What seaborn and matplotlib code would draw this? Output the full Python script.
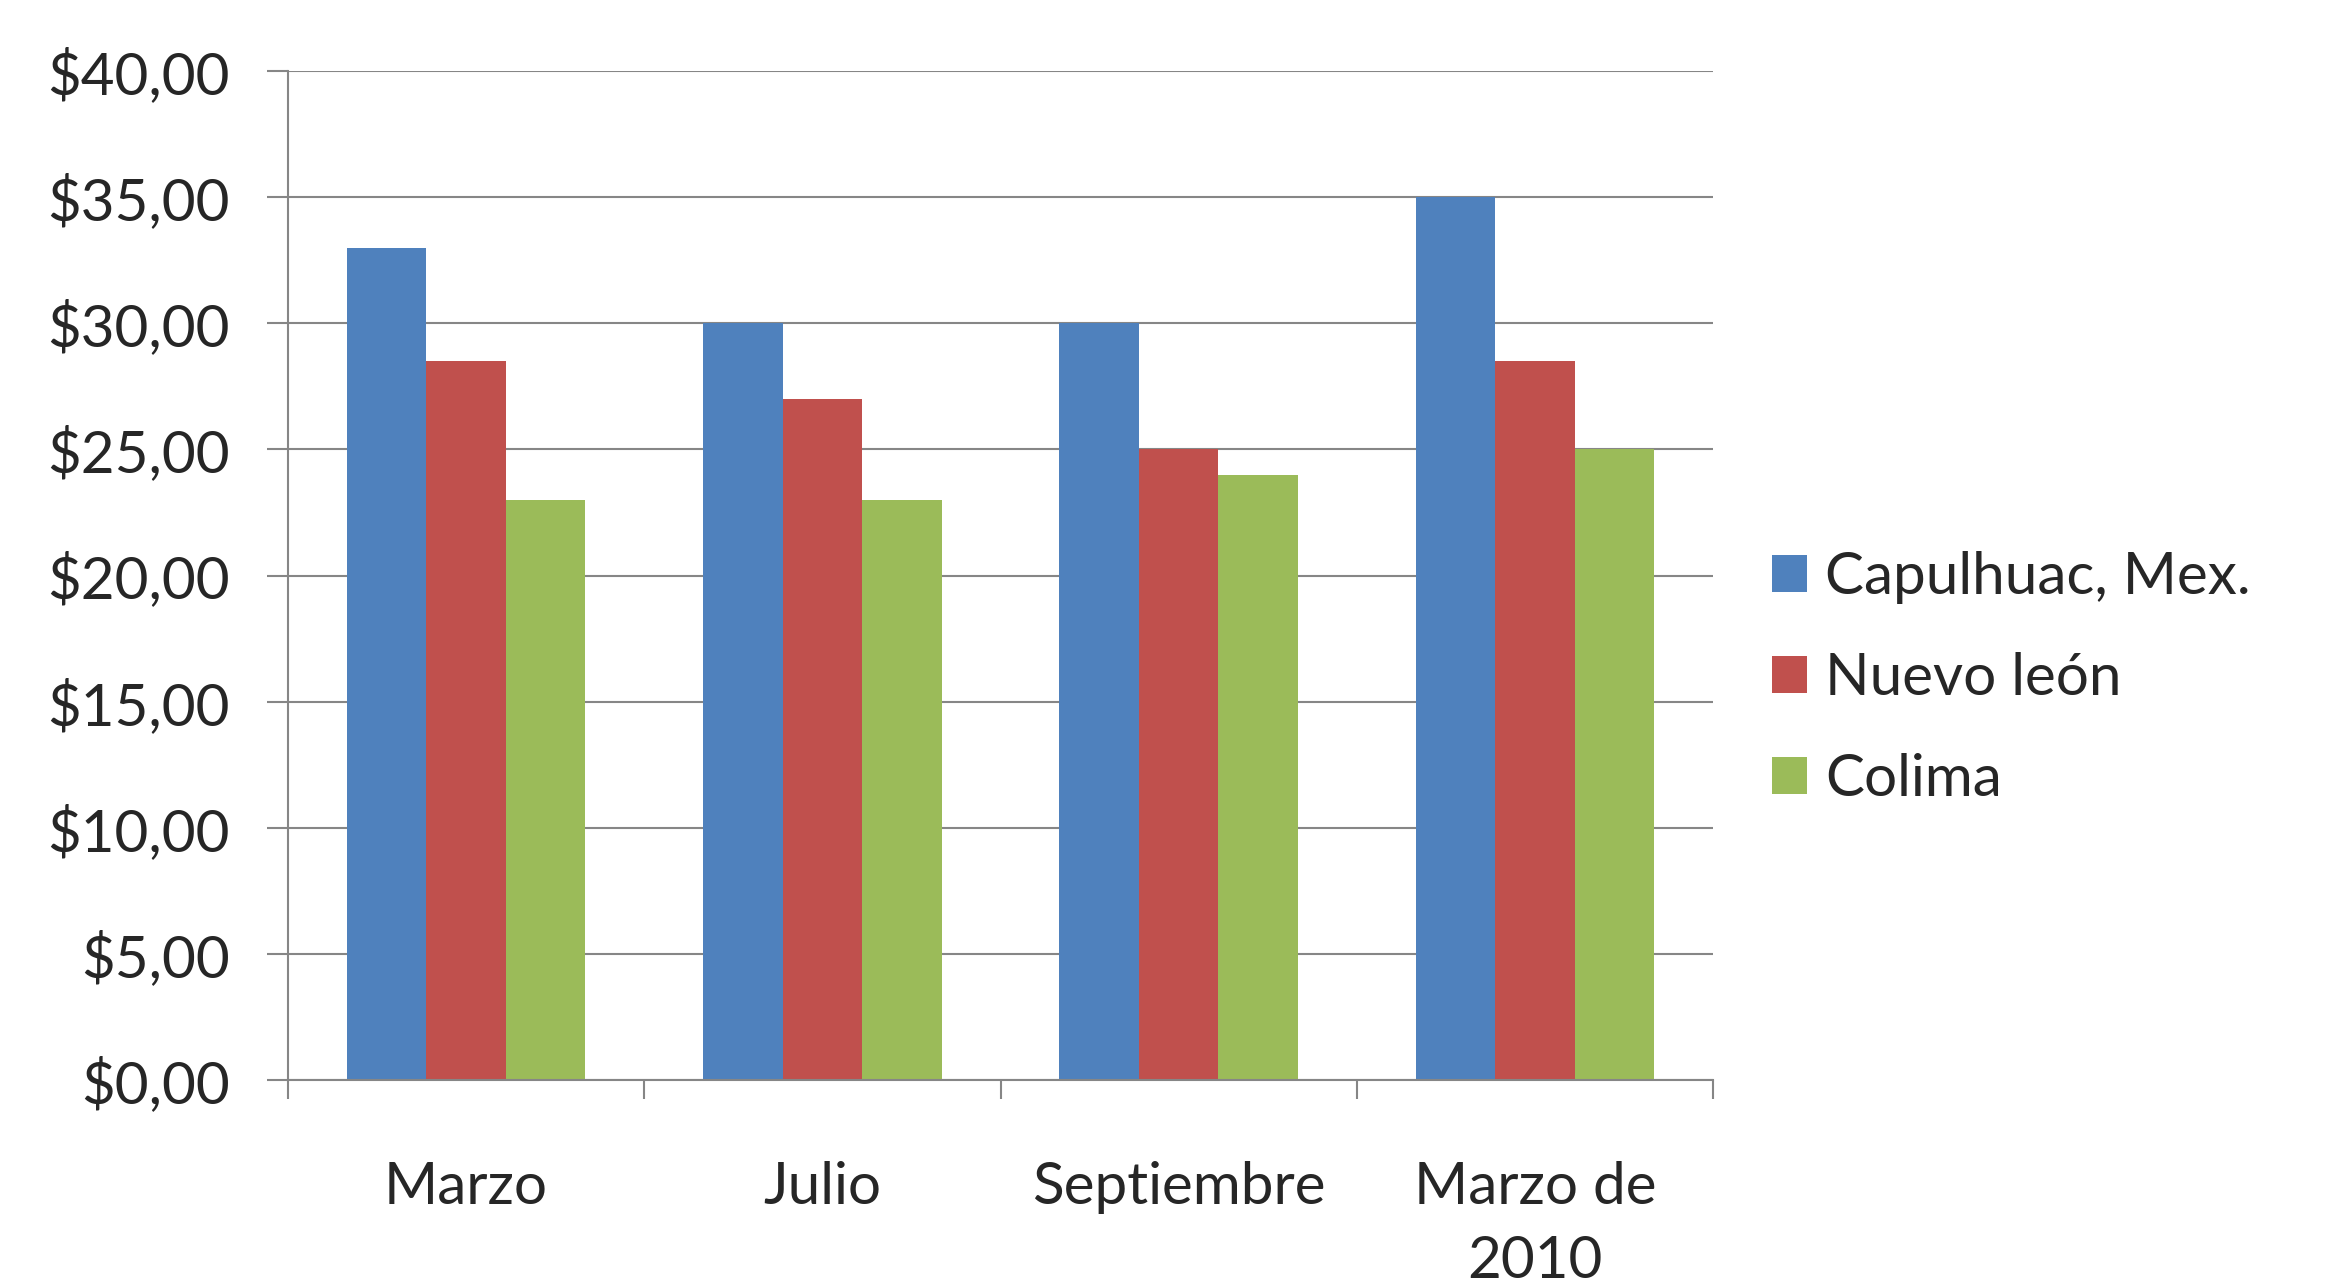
import matplotlib
matplotlib.use("Agg")
import matplotlib.pyplot as plt
import seaborn as sns
import pandas as pd
from matplotlib.ticker import FuncFormatter, FixedLocator

meses = ["Marzo", "Julio", "Septiembre", "Marzo de\n2010"]
estados = ["Capulhuac, Mex.", "Nuevo león", "Colima"]
capulhuac = [33.0, 30.0, 30.0, 35.0]
nuevo_leon = [28.5, 27.0, 25.0, 28.5]
colima = [23.0, 23.0, 24.0, 25.0]
colores = ["#4F81BD", "#C0504D", "#9BBB59"]

rows = []
for est, vals in zip(estados, [capulhuac, nuevo_leon, colima]):
    for m, v in zip(meses, vals):
        rows.append({"mes": m, "estado": est, "precio": v})
df = pd.DataFrame(rows)

sns.set_theme(style="white")
plt.rcParams['font.family'] = ['Lato', 'DejaVu Sans']

fig = plt.figure(figsize=(23.26, 12.85), dpi=100)
ax = fig.add_axes([0.1238, 0.1595, 0.6127, 0.7852])

sns.barplot(data=df, x="mes", y="precio", hue="estado", order=meses,
            hue_order=estados, palette=colores, saturation=1, width=0.67,
            ax=ax, errorbar=None, linewidth=0)

ax.set_ylim(0, 40)
ax.set_xlim(-0.5, len(meses) - 0.5)
ax.set_yticks(range(0, 41, 5))
ax.yaxis.set_major_formatter(FuncFormatter(lambda v, p: f"${v:.2f}".replace(".", ",")))
ax.grid(axis="y", color="#868686", linewidth=1.5)
ax.set_axisbelow(True)
ax.set_xlabel("")
ax.set_ylabel("")

for s in ["top", "right"]:
    ax.spines[s].set_visible(False)
for s in ["left", "bottom"]:
    ax.spines[s].set_color("#868686")
    ax.spines[s].set_linewidth(1.5)

ax.tick_params(axis="y", which="major", length=15, width=1.5, color="#868686",
               left=True, pad=27, labelsize=42)
ax.tick_params(axis="x", which="major", length=0, pad=58, labelsize=42)
ax.xaxis.set_minor_locator(FixedLocator([i - 0.5 for i in range(len(meses) + 1)]))
ax.tick_params(axis="x", which="minor", length=14, width=1.5, color="#868686", bottom=True)
for lbl in ax.get_xticklabels():
    lbl.set_verticalalignment("top")
    lbl.set_linespacing(1.5)

handles, labels = ax.get_legend_handles_labels()
ax.legend(handles, labels, loc="center left", bbox_to_anchor=(0.762, 0.472),
          bbox_transform=fig.transFigure, frameon=False, fontsize=42,
          handlelength=0.6, handleheight=0.6, handletextpad=0.3,
          labelspacing=0.82, borderaxespad=0, borderpad=0)

fig.savefig("out.png", dpi=100)
